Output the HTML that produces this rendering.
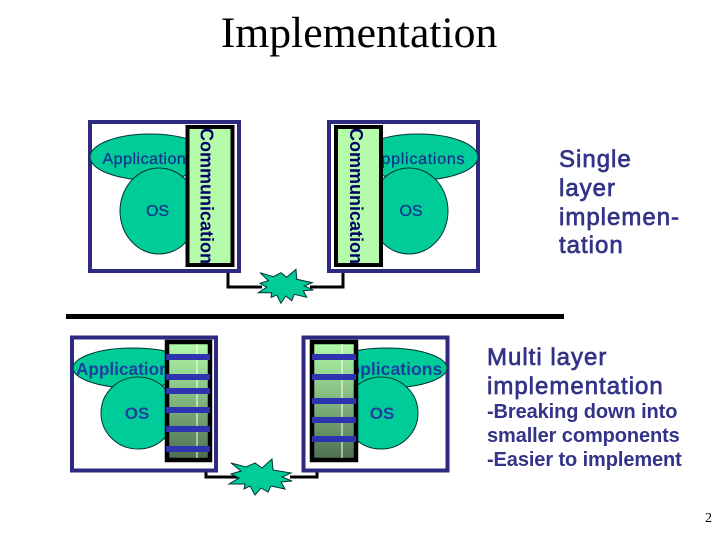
<!DOCTYPE html>
<html><head><meta charset="utf-8"><style>
html,body{margin:0;padding:0;background:#fff}
svg{display:block}
.c{font-family:"Liberation Sans",sans-serif;font-weight:bold;font-size:18px;fill:#000066}
.e{fill:#00cc99;stroke:#003333;stroke-width:1}
.lab{fill:#14338c;font-family:"Liberation Sans",sans-serif;stroke:#14338c;stroke-width:.25}
.lb{fill:#1f3f9e;font-family:"Liberation Sans",sans-serif;font-weight:bold}
.t{fill:#333388;font-family:"Liberation Sans",sans-serif}
</style></head><body>
<svg width="720" height="540" viewBox="0 0 720 540" xmlns="http://www.w3.org/2000/svg">
<defs>
<linearGradient id="g" x1="0" y1="0" x2="0" y2="1"><stop offset="0" stop-color="#b4fcaa"/><stop offset="1" stop-color="#4d6e50"/></linearGradient>
</defs>
<text x="359" y="47" text-anchor="middle" font-family="Liberation Serif" font-size="43.7" fill="#000">Implementation</text>

<!-- top left -->
<path d="M228 272V287H262" fill="none" stroke="#000" stroke-width="3"/>
<rect x="90" y="122" width="149" height="149" fill="#fff" stroke="#2e2a80" stroke-width="4"/>
<ellipse class="e" cx="150" cy="157" rx="60" ry="23"/>
<text class="lab" x="102.500" y="164" font-size="16" letter-spacing=".5">Applications</text>
<ellipse class="e" cx="159" cy="211" rx="39" ry="43"/>
<text class="lab" x="157.500" y="216" font-size="16" text-anchor="middle">OS</text>
<rect x="187.500" y="127" width="45" height="138" fill="#b4fcaa" stroke="#000" stroke-width="4"/>
<text class="c" transform="translate(200.500,128) rotate(90)" textLength="136" lengthAdjust="spacingAndGlyphs">Communication</text>

<!-- top right -->
<path d="M343 272V287H310" fill="none" stroke="#000" stroke-width="3"/>
<rect x="329" y="122" width="149" height="149" fill="#fff" stroke="#2e2a80" stroke-width="4"/>
<ellipse class="e" cx="418" cy="157" rx="60" ry="23"/>
<text class="lab" x="370" y="164" font-size="16" letter-spacing=".75">Applications</text>
<ellipse class="e" cx="409" cy="211" rx="39" ry="43"/>
<text class="lab" x="411" y="216" font-size="16" text-anchor="middle">OS</text>
<rect x="336" y="127" width="45" height="138" fill="#b4fcaa" stroke="#000" stroke-width="4"/>
<text class="c" transform="translate(350,128) rotate(90)" textLength="136" lengthAdjust="spacingAndGlyphs">Communication</text>

<!-- top star -->
<polygon class="e" points="260,272.700 273.300,276.700 281,272.700 286.700,277.300 296,269.300 296.700,279.300 312.300,282.700 304.300,286 313.300,290 303.300,290.700 306.700,297.300 294.300,294.300 291.700,300.700 285.700,296 281,303.300 276.700,295 271,297.300 271.700,292.700 258.300,292.700 266.700,287.300 260,283.300 268.300,280.700"/>

<!-- divider -->
<rect x="66" y="314" width="498" height="5" fill="#000"/>

<!-- bottom left -->
<path d="M206 465V477H240" fill="none" stroke="#000" stroke-width="3"/>
<rect x="72" y="337.500" width="144" height="133" fill="#fff" stroke="#2e2a80" stroke-width="4"/>
<ellipse class="e" cx="133" cy="368" rx="60" ry="20"/>
<text class="lb" x="76" y="375" font-size="17.200">Applications</text>
<ellipse class="e" cx="138" cy="413" rx="37" ry="36"/>
<text class="lb" x="137" y="419" font-size="17" text-anchor="middle">OS</text>
<rect x="167" y="342" width="43" height="118" fill="url(#g)" stroke="#000" stroke-width="4.500"/>
<rect x="196.500" y="344" width="1" height="114" fill="#fff"/>
<g fill="#2e33b0"><rect x="166" y="354" width="44" height="6"/><rect x="166" y="374" width="44" height="6"/><rect x="166" y="388" width="44" height="6"/><rect x="166" y="407" width="44" height="6"/><rect x="166" y="426" width="44" height="6"/><rect x="166" y="446" width="44" height="6"/></g>

<!-- bottom right -->
<path d="M317 462V477H290" fill="none" stroke="#000" stroke-width="3"/>
<rect x="303.500" y="337.500" width="144" height="133" fill="#fff" stroke="#2e2a80" stroke-width="4"/>
<ellipse class="e" cx="387" cy="368" rx="60" ry="20"/>
<text class="lb" x="336.700" y="375" font-size="17.600">Applications</text>
<ellipse class="e" cx="381" cy="413" rx="37" ry="36"/>
<text class="lb" x="382" y="419" font-size="17" text-anchor="middle">OS</text>
<rect x="312" y="342" width="44" height="118" fill="url(#g)" stroke="#000" stroke-width="4.500"/>
<rect x="341.500" y="344" width="1" height="114" fill="#fff"/>
<g fill="#2e33b0"><rect x="312" y="354" width="44" height="6"/><rect x="312" y="374" width="44" height="6"/><rect x="312" y="398" width="44" height="6"/><rect x="312" y="417" width="44" height="6"/><rect x="312" y="436" width="44" height="6"/></g>

<!-- bottom star -->
<polygon class="e" points="231,463 246,467 255,463 262,468 272,459 273,470 291,473 282,477 292,481 281,482 285,489 271,486 268,492 261,488 255,495 250,486 244,489 245,484 229,484 239,478 231,474 241,471"/>

<!-- right text -->
<g class="t" font-size="24" letter-spacing="1" stroke="#333388" stroke-width=".7">
<text x="559" y="167">Single</text>
<text x="559" y="196">layer</text>
<text x="559" y="225">implemen-</text>
<text x="559" y="253">tation</text>
<text x="487" y="365">Multi layer</text>
<text x="487" y="394">implementation</text>
</g>
<g class="t" font-size="20" font-weight="bold" letter-spacing="-.1">
<text x="487" y="418">-Breaking down into</text>
<text x="487" y="442">smaller components</text>
<text x="487" y="466">-Easier to implement</text>
</g>
<text x="705" y="522" font-family="Liberation Serif" font-size="14" fill="#000">2</text>
</svg>
</body></html>
